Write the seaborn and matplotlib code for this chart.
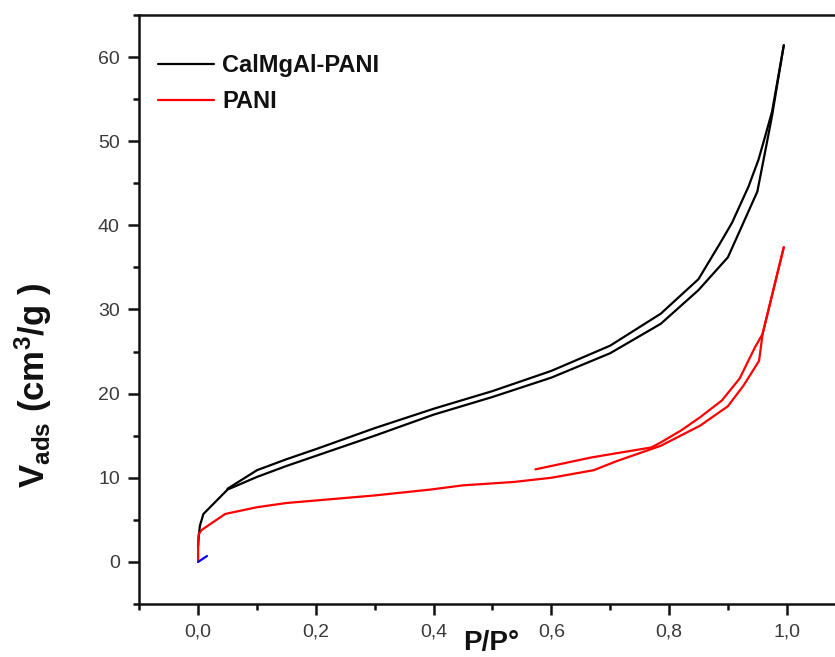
import numpy as np
import pandas as pd
import seaborn as sns
import matplotlib
matplotlib.use("Agg")
import matplotlib.pyplot as plt
from matplotlib.ticker import MultipleLocator, FuncFormatter

# ---- data ----
cal_ads_x = [0.0, 0.001, 0.003, 0.009, 0.05, 0.10, 0.15, 0.20, 0.30, 0.40, 0.50, 0.60, 0.70,
             0.786, 0.85, 0.90, 0.918, 0.95, 0.964, 0.975, 0.995]
cal_ads_y = [1.9, 3.0, 4.3, 5.7, 8.6, 10.1, 11.4, 12.6, 15.0, 17.5, 19.6, 21.9, 24.8,
             28.3, 32.3, 36.2, 39.0, 44.0, 49.0, 53.0, 61.4]
cal_des_x = [0.995, 0.975, 0.963, 0.952, 0.935, 0.907, 0.887, 0.85, 0.80, 0.786, 0.70,
             0.60, 0.50, 0.40, 0.30, 0.20, 0.15, 0.10, 0.05]
cal_des_y = [61.4, 53.5, 50.5, 47.8, 44.6, 40.3, 37.9, 33.6, 30.4, 29.5, 25.7,
             22.7, 20.3, 18.2, 15.9, 13.4, 12.2, 10.9, 8.7]

pani_ads_x = [0.0, 0.0, 0.001, 0.006, 0.046, 0.10, 0.15, 0.20, 0.30, 0.395, 0.45, 0.536,
              0.60, 0.672, 0.712, 0.786, 0.853, 0.90, 0.927, 0.953, 0.959, 0.995]
pani_ads_y = [0.0, 2.5, 3.3, 3.8, 5.7, 6.5, 7.0, 7.3, 7.9, 8.6, 9.1, 9.5,
              10.0, 10.9, 12.0, 13.8, 16.2, 18.5, 21.0, 23.9, 27.1, 37.4]
pani_des_x = [0.995, 0.959, 0.946, 0.92, 0.89, 0.853, 0.82, 0.786, 0.77, 0.718, 0.667, 0.60, 0.573]
pani_des_y = [37.4, 27.1, 25.5, 21.8, 19.2, 17.2, 15.6, 14.2, 13.6, 13.0, 12.4, 11.4, 11.0]

blue_x = [0.0, 0.015]
blue_y = [0.0, 0.7]

series_names = ["CalMgAl-PANI", "PANI"]
x_ticks = [0.0, 0.2, 0.4, 0.6, 0.8, 1.0]
y_ticks = [0, 10, 20, 30, 40, 50, 60]

# ---- style ----
sns.set_style("white")
plt.rcParams["font.family"] = ["Liberation Sans", "DejaVu Sans"]
plt.rcParams["mathtext.fontset"] = "custom"
plt.rcParams["mathtext.rm"] = "Liberation Sans:bold"
plt.rcParams["mathtext.it"] = "Liberation Sans:bold"
plt.rcParams["mathtext.bf"] = "Liberation Sans:bold"

fig = plt.figure(figsize=(8.35, 6.57), dpi=100)
ax = fig.add_axes([0.1668, 0.0807, 1.0 - 0.1668, 0.8965])

lw = 1.6
sns.lineplot(x=cal_ads_x, y=cal_ads_y, sort=False, estimator=None, color="black",
             lw=lw, ax=ax, label=series_names[0])
sns.lineplot(x=cal_des_x, y=cal_des_y, sort=False, estimator=None, color="black",
             lw=lw, ax=ax)
sns.lineplot(x=pani_ads_x, y=pani_ads_y, sort=False, estimator=None, color="#ff0000",
             lw=lw, ax=ax, label=series_names[1])
sns.lineplot(x=pani_des_x, y=pani_des_y, sort=False, estimator=None, color="#ff0000",
             lw=lw, ax=ax)
sns.lineplot(x=blue_x, y=blue_y, sort=False, estimator=None, color="#0000ff",
             lw=lw, ax=ax)

ax.set_xlim(-0.1, 1.082)
ax.set_ylim(-5, 65)

ax.set_xticks(x_ticks)
ax.set_yticks(y_ticks)
ax.xaxis.set_minor_locator(MultipleLocator(0.1))
ax.yaxis.set_minor_locator(MultipleLocator(5))
ax.xaxis.set_major_formatter(FuncFormatter(lambda v, p: f"{v:.1f}".replace(".", ",")))
ax.yaxis.set_major_formatter(FuncFormatter(lambda v, p: f"{int(round(v))}"))

ax.tick_params(which="major", direction="out", length=8, width=1.8, labelsize=14,
               labelcolor="#3a3a3a", color="#111111", pad=6)
ax.tick_params(which="minor", direction="out", length=4.5, width=1.8, color="#111111")
ax.tick_params(axis="x", which="both", bottom=True, top=False)
ax.tick_params(axis="y", which="both", left=True, right=False)

for s in ["left", "bottom", "top"]:
    ax.spines[s].set_linewidth(1.8)
    ax.spines[s].set_color("#111111")
ax.spines["right"].set_visible(False)

ax.set_xlabel("")
ax.set_ylabel("")

fig.text(33 / 835, 1 - 385 / 657, r"V$_{\rm ads}$ (cm$^{3}$/g )", rotation=90,
         fontsize=25, fontweight="bold", ha="center", va="center", color="#111111")
fig.text(491 / 835, 1 / 657, "P/P°", fontsize=20, fontweight="bold",
         ha="center", va="bottom", color="#111111")

leg = ax.legend(loc="upper left", bbox_to_anchor=(0.0, 0.966), frameon=False,
                prop={"weight": "bold", "size": 17}, handlelength=2.35,
                handletextpad=0.35, labelspacing=0.57, borderaxespad=0.4)
for t in leg.get_texts():
    t.set_color("#111111")

fig.savefig("out.png", dpi=100)
